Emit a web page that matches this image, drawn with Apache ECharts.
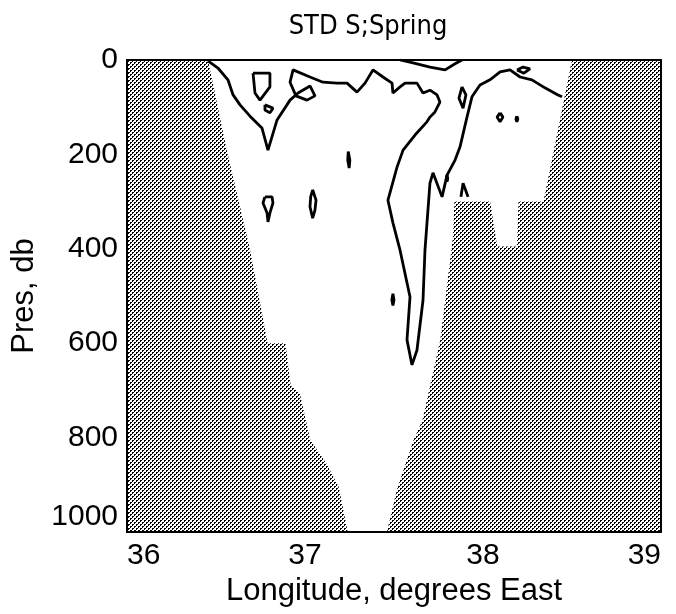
<!DOCTYPE html>
<html>
<head>
<meta charset="utf-8">
<script src="https://cdn.jsdelivr.net/npm/echarts@6/dist/echarts.min.js"></script>
<style>
  html, body { margin: 0; padding: 0; background: #fff; }
  #chart { width: 676px; height: 614px; }
</style>
</head>
<body>
<div id="chart"></div>
<script>
// bottom profile (longitude, pressure) - everything deeper is shaded
const bottomLon  = [36.00, 36.455, 36.56, 36.69, 36.79, 36.89, 36.92, 36.97, 37.03, 37.12, 37.19, 37.24,
                    37.46, 37.52, 37.61, 37.66, 37.76, 37.83, 37.84, 38.04, 38.08, 38.19, 38.20, 38.34, 38.50, 39.00]
const bottomPres = [0, 0, 190, 400, 600, 600, 690, 705, 805, 855, 905, 1000,
                    1000, 905, 805, 763, 593, 380, 300, 300, 395, 395, 300, 300, 0, 0]

// contour lines, [lon, pres]
const mainContour = [
  [36.455, 2], [36.511, 17], [36.567, 42], [36.596, 74], [36.635, 95], [36.691, 119], [36.758, 144],
  [36.792, 191], [36.843, 127], [36.916, 85], [36.961, 70], [37.028, 55], [37.056, 76], [37.011, 85],
  [36.949, 76], [36.916, 47], [36.933, 21], [37.028, 36], [37.101, 47], [37.180, 49], [37.236, 49],
  [37.292, 68], [37.337, 49], [37.382, 21], [37.438, 36], [37.489, 49], [37.494, 70], [37.534, 57],
  [37.562, 49], [37.629, 49], [37.663, 70], [37.702, 64], [37.742, 74], [37.758, 89], [37.730, 110],
  [37.702, 121], [37.685, 131], [37.618, 159], [37.551, 191], [37.517, 227], [37.466, 297], [37.494, 345],
  [37.534, 403], [37.590, 502], [37.573, 593], [37.601, 646], [37.629, 615], [37.663, 509], [37.674, 403],
  [37.702, 261], [37.719, 239], [37.770, 290], [37.798, 244], [37.843, 212], [37.871, 184], [37.910, 121],
  [37.938, 78], [37.983, 53], [38.039, 42], [38.096, 25], [38.152, 21], [38.208, 36], [38.275, 42],
  [38.348, 59], [38.421, 74], [38.444, 78]
]
const upperContour = [[37.534, 0], [37.607, 6], [37.702, 15], [37.787, 21], [37.843, 8], [37.882, 0]]
const ridgeContour = [[37.876, 290], [37.888, 261], [37.916, 290]]
const loops = [
  [[36.708, 28], [36.803, 28], [36.803, 57], [36.747, 85], [36.719, 70], [36.708, 28]],
  [[36.775, 95], [36.820, 102], [36.803, 112], [36.775, 106], [36.775, 95]],
  [[36.775, 290], [36.815, 290], [36.820, 303], [36.803, 324], [36.792, 343], [36.787, 324], [36.764, 303], [36.775, 290]],
  [[37.043, 275], [37.062, 297], [37.056, 318], [37.043, 335], [37.028, 311], [37.032, 290], [37.043, 275]],
  [[37.243, 194], [37.252, 212], [37.248, 229], [37.240, 212], [37.243, 194]],
  [[37.494, 495], [37.500, 508], [37.494, 520], [37.488, 508], [37.494, 495]],
  [[37.882, 57], [37.904, 74], [37.888, 102], [37.865, 81], [37.882, 57]],
  [[38.096, 112], [38.112, 121], [38.096, 131], [38.079, 121], [38.096, 112]],
  [[38.190, 119], [38.196, 125], [38.190, 131], [38.185, 125], [38.190, 119]],
  [[37.798, 244], [37.802, 251], [37.798, 258], [37.794, 251], [37.798, 244]],
  [[38.191, 21], [38.225, 15], [38.264, 19], [38.230, 28], [38.191, 21]]
]

// halftone dots like the printed shading
function makeDots() {
  const c = document.createElement('canvas')
  c.width = 4
  c.height = 4
  const ctx = c.getContext('2d')
  ctx.fillStyle = '#fff'
  ctx.fillRect(0, 0, 4, 4)
  ctx.fillStyle = '#000'
  ctx.fillRect(0, 0, 2, 1)
  ctx.fillRect(0, 1, 1, 1)
  ctx.fillRect(2, 2, 2, 1)
  ctx.fillRect(2, 3, 1, 1)
  return c
}

const font = 'Liberation Sans'
const chart = echarts.init(document.getElementById('chart'))

const lineSeries = (data) => ({
  type: 'line',
  data: data,
  symbol: 'none',
  z: 5,
  lineStyle: { color: '#000', width: 2.8 },
  silent: true
})

const series = [{
  type: 'line',
  data: bottomLon.map((v, i) => [v, bottomPres[i]]),
  symbol: 'none',
  z: 2,
  lineStyle: { width: 0 },
  areaStyle: { origin: 'end', color: { image: makeDots(), repeat: 'repeat' }, opacity: 1 },
  silent: true
}, lineSeries(mainContour), lineSeries(upperContour), lineSeries(ridgeContour)]
loops.forEach(l => series.push(lineSeries(l)))

const frameAxis = { axisTick: { show: false }, axisLabel: { show: false }, splitLine: { show: false } }

chart.setOption({
  animation: false,
  title: {
    text: 'STD S;Spring',
    left: 363,
    textAlign: 'center',
    top: 8,
    textStyle: {
      fontFamily: "'Liberation Sans Narrow', 'DejaVu Sans Condensed', sans-serif",
      fontSize: 27, fontWeight: 'normal', color: '#000'
    }
  },
  grid: { left: 127, right: 15, top: 60, bottom: 82, outerBoundsMode: 'none', containLabel: false },
  xAxis: [{
    type: 'value',
    min: 36, max: 39, interval: 1,
    name: 'Longitude, degrees East',
    nameLocation: 'middle',
    nameGap: 37,
    nameTextStyle: { fontFamily: font, fontSize: 31, color: '#000' },
    axisLine: { show: true, onZero: false, lineStyle: { color: '#000', width: 2 } },
    axisTick: { show: false },
    splitLine: { show: false },
    axisLabel: {
      fontFamily: font, fontSize: 30, color: '#000', margin: 9,
      alignMinLabel: 'left', alignMaxLabel: 'right'
    },
    z: 10
  }, {
    type: 'value', position: 'top', min: 36, max: 39,
    axisLine: { show: true, onZero: false, lineStyle: { color: '#000', width: 2 } },
    ...frameAxis,
    z: 10
  }],
  yAxis: [{
    type: 'value',
    inverse: true,
    min: 0, max: 1000, interval: 200,
    name: 'Pres, db',
    nameLocation: 'middle',
    nameGap: 83,
    nameTextStyle: { fontFamily: font, fontSize: 31, color: '#000' },
    axisLine: { show: true, onZero: false, lineStyle: { color: '#000', width: 2 } },
    axisTick: { show: false },
    splitLine: { show: false },
    axisLabel: {
      fontFamily: font, fontSize: 30, color: '#000', margin: 9,
      formatter: v => String(v),
      verticalAlignMaxLabel: 'bottom'
    },
    z: 10
  }, {
    type: 'value', position: 'right', inverse: true, min: 0, max: 1000,
    axisLine: { show: true, onZero: false, lineStyle: { color: '#000', width: 2 } },
    ...frameAxis,
    z: 10
  }],
  series: series
})
</script>
</body>
</html>
